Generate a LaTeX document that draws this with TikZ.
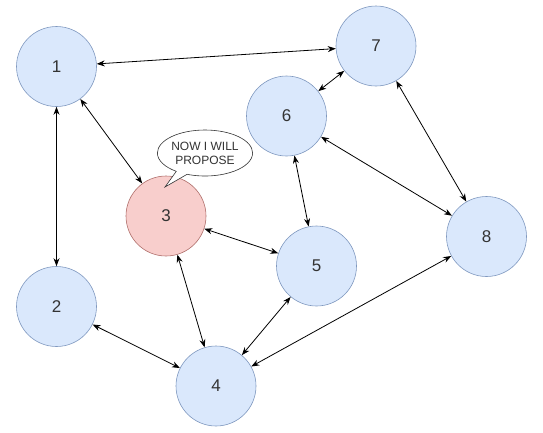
\documentclass[tikz,border=0pt]{standalone}
\usepackage{fontspec}
\setmainfont{Liberation Sans}
\usetikzlibrary{arrows.meta,shapes.callouts}

\definecolor{peerfill}{HTML}{DAE8FC}
\definecolor{peerline}{HTML}{7F98BF}
\definecolor{propfill}{HTML}{F8CECC}
\definecolor{propline}{HTML}{B0706C}
\definecolor{numtext}{HTML}{333333}

\tikzset{
  peer/.style={circle, draw=peerline, fill=peerfill, line width=0.6pt,
    minimum size=80pt, inner sep=0pt, text=numtext, font=\fontsize{17}{17}\selectfont},
  proposer/.style={peer, draw=propline, fill=propfill},
  link/.style={{Stealth[length=8pt,width=6pt]}-{Stealth[length=8pt,width=6pt]}, line width=0.8pt}
}

\begin{document}
\begin{tikzpicture}[x=1pt,y=-1pt]
      \useasboundingbox (0,0) rectangle (543,432);
      \node at(56.5,66.5) [peer] (n1) {1};
      \node at(56.5,306.5) [peer] (n2) {2};
      \node at(166,216) [proposer] (n3) {3};
      \node at(216,386) [peer] (n4) {4};
      \node at(316.5,266) [peer] (n5) {5};
      \node at(286.5,116) [peer] (n6) {6};
      \node at(376,46) [peer] (n7) {7};
      \node at(486.5,236.5) [peer] (n8) {8};

      \node at(205,153) [ellipse callout, draw=black!80, fill=white, line width=0.6pt,
        minimum width=89pt, minimum height=46pt, inner sep=0pt, align=center,
        callout absolute pointer={(165,187)}, text=numtext,
        font=\fontsize{12}{14}\selectfont] (bubble) {NOW I WILL\\PROPOSE};

      \draw[link]
      (n1) edge (n7)
           edge (n2)
           edge (n3)
      (n7) edge (n6)
           edge (n8)
      (n6) edge (n5)
           edge (n8)
      (n3) edge (n5)
           edge (n4)
      (n4) edge (n2)
           edge (n5)
           edge (n8)
      ;
\end{tikzpicture}
\end{document}
